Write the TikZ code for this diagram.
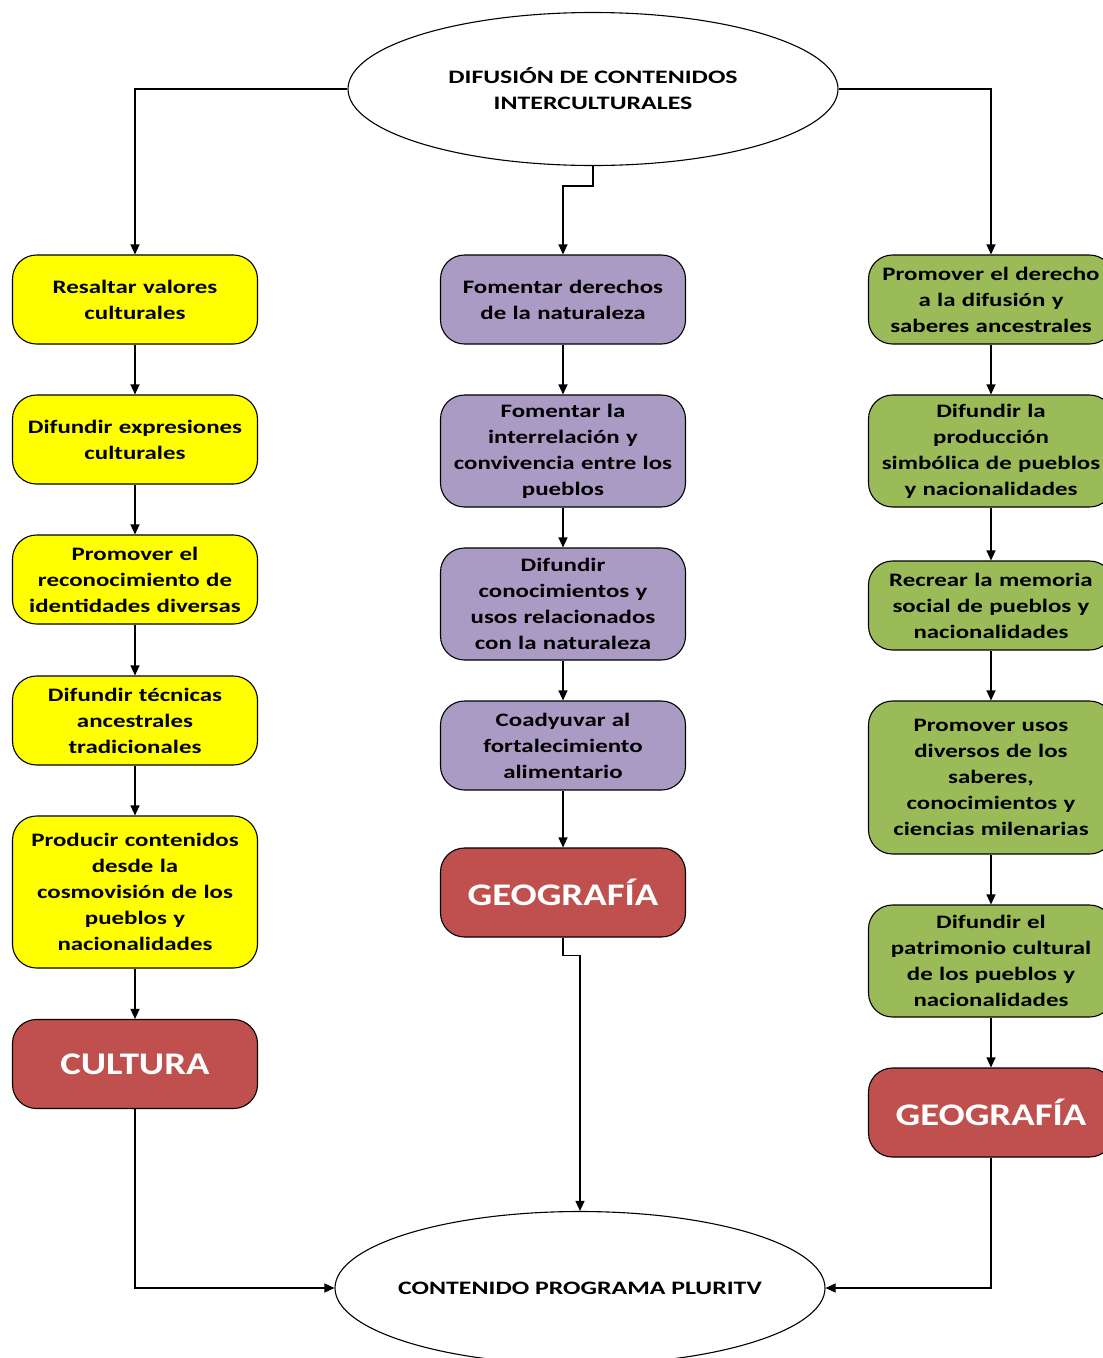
\documentclass[tikz,border=0pt]{standalone}
\usepackage{fontspec}
\setmainfont{Carlito}
\newfontfamily\boxfont[FakeStretch=1.31]{Carlito}
\newfontfamily\bigfont[FakeStretch=1.23]{Carlito}
\newfontfamily\ellfont[FakeStretch=1.36]{Carlito}
\usetikzlibrary{shapes.geometric,arrows.meta}
\definecolor{cyel}{HTML}{FFFF00}
\definecolor{cpur}{HTML}{AA9BC4}
\definecolor{cgrn}{HTML}{9BBB59}
\definecolor{cred}{HTML}{C0504D}
\begin{document}
\begin{tikzpicture}[x=1pt,y=-1pt,
  box/.style={draw=black,line width=1.1pt,rounded corners=24pt,minimum width=245pt,
    text width=240pt,align=center,inner sep=0pt,font=\boxfont\bfseries\fontsize{19}{26}\selectfont},
  ybox/.style={box,fill=cyel},
  pbox/.style={box,fill=cpur},
  gbox/.style={box,fill=cgrn},
  rbox/.style={box,fill=cred,text=white,minimum height=89pt,font=\bigfont\bfseries\fontsize{31.5}{38}\selectfont},
  ell/.style={draw=black,line width=1.1pt,ellipse,minimum width=490pt,minimum height=153pt,inner sep=0pt},
  elltext/.style={align=center,font=\ellfont\bfseries\fontsize{19}{26}\selectfont},
  conn/.style={line width=1.2pt,-{Triangle[length=10pt,width=9pt]}}]
\useasboundingbox (0,0) rectangle (1103,1358);
\clip (0,0) rectangle (1103,1358);
% ellipses
\node[ell] (top) at (593,89) {};
\node[elltext] (toptext) at (top.center) {DIFUSIÓN DE CONTENIDOS\\INTERCULTURALES};
\node[ell] (bot) at (580,1288) {};
\node[elltext] (bottext) at (bot.center) {CONTENIDO PROGRAMA PLURITV};
% left column
\node[ybox,minimum height=89pt] (l1) at (135,299.5) {Resaltar valores\\culturales};
\node[ybox,minimum height=89pt] (l2) at (135,439.5) {Difundir expresiones\\culturales};
\node[ybox,minimum height=89pt] (l3) at (135,579.5) {Promover el\\reconocimiento de\\identidades diversas};
\node[ybox,minimum height=89pt] (l4) at (135,720.5) {Difundir técnicas\\ancestrales\\tradicionales};
\node[ybox,minimum height=152pt] (l5) at (135,892) {Producir contenidos\\desde la\\cosmovisión de los\\pueblos y\\nacionalidades};
\node[rbox] (l6) at (135,1064) {CULTURA};
% middle column
\node[pbox,minimum height=89pt] (m1) at (563,299.5) {Fomentar derechos\\de la naturaleza};
\node[pbox,minimum height=112pt] (m2) at (563,451) {Fomentar la\\interrelación y\\convivencia entre los\\pueblos};
\node[pbox,minimum height=112pt] (m3) at (563,604) {Difundir\\conocimientos y\\usos relacionados\\con la naturaleza};
\node[pbox,minimum height=89pt] (m4) at (563,745.5) {Coadyuvar al\\fortalecimiento\\alimentario};
\node[rbox] (m5) at (563,892.5) {GEOGRAFÍA};
% right column
\node[gbox,minimum height=89pt] (r1) at (991,299.5) {Promover el derecho\\a la difusión y\\saberes ancestrales};
\node[gbox,minimum height=112pt] (r2) at (991,451) {Difundir la\\producción\\simbólica de pueblos\\y nacionalidades};
\node[gbox,minimum height=89pt] (r3) at (991,605.5) {Recrear la memoria\\social de pueblos y\\nacionalidades};
\node[gbox,minimum height=153pt] (r4) at (991,777.5) {Promover usos\\diversos de los\\saberes,\\conocimientos y\\ciencias milenarias};
\node[gbox,minimum height=112pt] (r5) at (991,961) {Difundir el\\patrimonio cultural\\de los pueblos y\\nacionalidades};
\node[rbox] (r6) at (991,1112.5) {GEOGRAFÍA};
% connectors from top
\draw[conn] (top.west) -| (l1.north);
\draw[conn] (top.east) -| (r1.north);
\draw[conn] (top.south) -- ++(0,20) -| (m1.north);
% chains
\foreach \a/\b in {l1/l2,l2/l3,l3/l4,l4/l5,l5/l6,m1/m2,m2/m3,m3/m4,m4/m5,r1/r2,r2/r3,r3/r4,r4/r5,r5/r6}
  \draw[conn] (\a.south) -- (\b.north);
% to bottom
\draw[conn] (m5.south) -- ++(0,18) -| (bot.north);
\draw[conn] (l6.south) |- (bot.west);
\draw[conn] (r6.south) |- (bot.east);
\end{tikzpicture}
\end{document}
